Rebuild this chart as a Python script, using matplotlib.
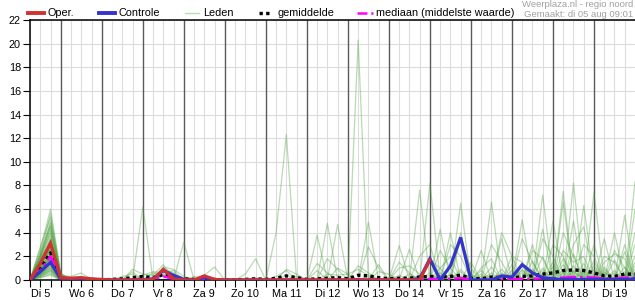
import matplotlib
matplotlib.use("Agg")
import matplotlib.pyplot as plt
from matplotlib.lines import Line2D
import numpy as np

plt.rcParams["font.family"] = ["Liberation Sans", "DejaVu Sans"]

W, H = 635, 300

# ── Data (6-hourly steps, hours after 5 aug 00:00) ────────────────────────────
hours = list(range(6, 361, 6))            # 60 steps: 06h day 5 .. 00h day 20
day_labels = ["Di 5", "Wo 6", "Do 7", "Vr 8", "Za 9", "Zo 10", "Ma 11",
              "Di 12", "Wo 13", "Do 14", "Vr 15", "Za 16", "Zo 17", "Ma 18", "Di 19"]

oper = [0, 1.4, 3.1, 0.2, 0.15, 0.2, 0.1, 0.05, 0, 0, 0, 0, 0.05, 0.9, 0.1, 0,
        0, 0.35, 0.05, 0, 0, 0, 0, 0, 0, 0, 0, 0, 0, 0,
        0, 0, 0, 0, 0, 0, 0, 0, 0, 1.7]

control = [0, 0.7, 1.5, 0.1, 0.05, 0.1, 0.05, 0, 0, 0, 0, 0, 0.1, 0.8, 0.4, 0.05,
           0, 0.2, 0, 0, 0, 0, 0, 0, 0, 0, 0, 0, 0, 0,
           0, 0, 0, 0, 0, 0, 0, 0, 0.1, 1.8, 0, 1.2, 3.6, 0, 0, 0,
           0.35, 0.25, 1.3, 0.6, 0.2, 0.1, 0.05, 0.05, 0.05, 0.05, 0.05, 0.05, 0.05, 0.1]

mean = [0, 1.0, 2.3, 0.2, 0.1, 0.1, 0.05, 0, 0.05, 0.1, 0.2, 0.3, 0.2, 0.45, 0.2, 0.1,
        0.05, 0.05, 0.05, 0, 0, 0.05, 0.1, 0.05, 0.15, 0.35, 0.2, 0.05, 0.1, 0.15,
        0.2, 0.1, 0.4, 0.35, 0.2, 0.1, 0.15, 0.15, 0.25, 0.3, 0.25, 0.3, 0.4, 0.15,
        0.1, 0.25, 0.2, 0.15, 0.3, 0.35, 0.5, 0.6, 0.8, 0.85, 0.8, 0.6, 0.35, 0.3, 0.5, 0.5]

median = [0, 0.8, 2.0, 0.1, 0.05, 0.05, 0, 0, 0, 0, 0.05, 0.05, 0.05, 0.3, 0.1, 0,
          0, 0, 0, 0, 0, 0, 0, 0, 0, 0.05, 0, 0, 0, 0,
          0, 0, 0.05, 0.05, 0, 0, 0, 0, 0.05, 0.1, 0.05, 0.1, 0.15, 0.05,
          0, 0.05, 0.05, 0.05, 0.1, 0.1, 0.15, 0.15, 0.2, 0.25, 0.25, 0.2, 0.15, 0.1, 0.2, 0.2]

# ensemble members: day-5 shower (12h, 18h, 24h) ...
leden_12h = [2.6, 2.2, 2.8, 2.0, 1.9, 2.4, 1.8, 2.1, 1.7, 2.0, 1.6, 1.4, 1.8, 1.2, 1.5,
             1.3, 1.1, 1.4, 1.0, 1.2, 1.3, 0.9, 1.0, 1.1, 0.8, 1.0, 0.9, 0.7, 0.9, 0.8,
             0.7, 0.6, 0.8, 0.6, 0.5, 0.6, 0.5, 0.5, 0.4, 0.5, 0.4, 0.3, 0.4, 0.3, 0.3,
             0.2, 0.2, 1.4, 1.5, 0.9]
leden_18h = [6.0, 5.6, 5.3, 5.0, 4.8, 4.6, 4.5, 4.3, 4.1, 3.9, 3.7, 3.5, 3.3, 3.2, 3.0,
             2.9, 2.8, 2.7, 2.6, 2.5, 2.4, 2.3, 2.2, 2.1, 2.0, 2.0, 1.9, 1.8, 1.8, 1.7,
             1.6, 1.5, 1.5, 1.4, 1.3, 1.2, 1.2, 1.1, 1.0, 1.0, 0.9, 0.8, 0.8, 0.7, 0.6,
             0.5, 0.4, 2.6, 3.4, 1.9]
leden_24h = [0.6, 0.4, 0.5, 0.3, 0.5, 0.2, 0.4, 0.3, 0.2, 0.3, 0.1, 0.2, 0.3, 0.1, 0.2,
             0.1, 0.2, 0.1, 0.3, 0.1, 0.1, 0.2, 0.1, 0.0, 0.1, 0.2, 0.0, 0.1, 0.1, 0.0,
             0.1, 0.0, 0.1, 0.0, 0.1, 0.0, 0.0, 0.1, 0.0, 0.0, 0.1, 0.0, 0.0, 0.0, 0.0,
             0.0, 0.0, 0.2, 0.3, 0.1]

# ... and the later showers per member as (step, mm)
leden_buien = [
    [(10, 0.9), (11, 0.5), (12, 0.4), (13, 1.3), (39, 8.2), (52, 7.5)],
    [(4, 0.3), (5, 0.6), (32, 20.3), (58, 3.0)],
    [(11, 6.2), (42, 6.5), (54, 3.0), (55, 2.0)],
    [(24, 4.0), (25, 12.3), (50, 7.2)],
    [(15, 3.2), (45, 6.6), (59, 8.3)],
    [(28, 3.8), (38, 7.6), (53, 8.2)],
    [(29, 4.8), (40, 4.3), (55, 7.4)],
    [(30, 4.7), (48, 5.1), (59, 6.0)],
    [(33, 4.9), (54, 6.3)],
    [(21, 0.5), (22, 1.8), (41, 4.0), (52, 6.6)],
    [(17, 0.4), (18, 1.1), (36, 2.9), (58, 5.5)],
    [(10, 0.7), (13, 1.0), (14, 0.6), (37, 2.6), (51, 5.0)],
    [(9, 0.3), (10, 0.5), (13, 0.8), (33, 2.8), (34, 1.0), (53, 5.0)],
    [(11, 0.4), (12, 0.7), (13, 0.6), (14, 0.8), (42, 3.5), (43, 1.0), (57, 4.0)],
    [(13, 0.9), (14, 0.4), (46, 4.0), (47, 2.0), (59, 4.0)],
    [(12, 0.3), (13, 0.7), (28, 1.4), (29, 0.6), (50, 4.3)],
    [(13, 0.5), (14, 0.3), (42, 4.0), (56, 3.5)],
    [(13, 1.1), (14, 0.9), (15, 0.3), (46, 3.5), (53, 3.0), (54, 4.5)],
    [(12, 0.6), (13, 0.4), (38, 2.0), (39, 3.0), (49, 3.0)],
    [(4, 0.2), (5, 0.3), (25, 0.9), (26, 0.5), (44, 2.5), (59, 3.0)],
    [(5, 0.2), (29, 1.8), (30, 0.9), (41, 3.0), (42, 2.0), (55, 3.0)],
    [(6, 0.1), (24, 0.3), (25, 0.8), (50, 3.5), (51, 2.0)],
    [(16, 0.3), (17, 0.2), (32, 1.2), (33, 0.6), (52, 4.0), (53, 2.0)],
    [(22, 0.2), (28, 0.8), (30, 1.0), (31, 0.5), (45, 3.0), (46, 1.5), (56, 2.0), (57, 1.5)],
    [(25, 0.4), (34, 0.7), (35, 0.5), (48, 3.5), (49, 1.5)],
    [(26, 0.3), (36, 1.5), (37, 0.6), (40, 2.5), (41, 1.0), (57, 2.5), (58, 1.0)],
    [(29, 0.5), (30, 0.4), (31, 0.5), (32, 0.9), (33, 0.4), (49, 2.5), (50, 1.8)],
    [(34, 1.3), (39, 1.7), (40, 1.0), (47, 2.0), (48, 1.5)],
    [(36, 1.0), (37, 1.2), (38, 0.5), (43, 1.5), (52, 2.5), (53, 1.5), (54, 2.0)],
    [(40, 1.0), (41, 2.0), (44, 1.0), (45, 1.8), (51, 3.0), (52, 2.0)],
    [(56, 1.5), (57, 2.2), (58, 1.8)],
    [(44, 0.5), (48, 1.2), (53, 0.8), (58, 2.4)],
    [(40, 0.6), (47, 0.8), (51, 1.5), (56, 0.9)],
    [(36, 0.4), (45, 1.1), (52, 1.8), (59, 1.2)],
    [(42, 0.9), (49, 0.7), (54, 1.4), (57, 0.6)],
    [(38, 0.3), (46, 0.6), (50, 1.0), (55, 1.6)],
    [(41, 0.5), (48, 0.8), (53, 2.2), (58, 0.7)],
    [(43, 0.4), (47, 1.3), (52, 0.9), (59, 2.0)],
    [(37, 0.5), (44, 0.3), (51, 0.7), (56, 1.1)],
    [(39, 0.6), (45, 0.4), (50, 2.0), (54, 0.8)],
    [(40, 0.3), (46, 0.9), (53, 1.2), (57, 1.7)],
    [(42, 0.7), (49, 1.6), (55, 0.9), (59, 1.5)],
    [(38, 0.4), (48, 0.6), (52, 1.3), (58, 0.5)],
    [(44, 0.8), (51, 1.1), (54, 0.6)],
    [(41, 0.4), (47, 0.5), (53, 0.7), (56, 0.6)],
    [(45, 0.6), (50, 0.8), (55, 1.2), (59, 0.9)],
    [(33, 0.3), (43, 0.5), (49, 0.9), (57, 0.8)],
    [(35, 0.2), (46, 0.4), (52, 0.6), (58, 1.1)],
    [(39, 0.4), (48, 0.9), (54, 1.0)],
    [(42, 0.3), (50, 0.5), (56, 0.7), (59, 0.6)],
]

COLORS = {
    "oper": "#d03232",
    "control": "#3434cc",
    "leden": "#4a9e3a",
    "leden_legend": "#b8dcb0",
    "mean": "#000000",
    "median": "#ff00ff",
    "grid": "#dcdcdc",
    "day": "#5a5a5a",
    "credit": "#a0a0a0",
}
FS = 7.8


def member_series(k):
    vals = np.zeros(len(hours))
    vals[1], vals[2], vals[3] = leden_12h[k], leden_18h[k], leden_24h[k]
    for step, mm in leden_buien[k]:
        vals[step] = mm
    return vals


fig = plt.figure(figsize=(W / 100, H / 100), dpi=100, facecolor="white")
ax = fig.add_axes([30 / W, 20 / H, 605 / W, 260 / H])

# grid: light every 6h / 2 mm, dark at midnight
day_starts = list(range(24, 360, 24))
light = [h for h in hours if h % 24 != 0]
ax.vlines(light, 0, 22, color=COLORS["grid"], lw=0.8, zorder=0.5)
ax.hlines(range(2, 23, 2), 6, 360, color=COLORS["grid"], lw=0.8, zorder=0.5)
ax.vlines(day_starts, 0, 22, color=COLORS["day"], lw=1.0, zorder=1)

for k in range(len(leden_buien)):
    ax.plot(hours, member_series(k), color=COLORS["leden"], lw=0.9, alpha=0.38, zorder=2)

ax.plot(hours, mean, color=COLORS["mean"], lw=2.4, linestyle=(0, (1, 1)), zorder=3)
ax.plot(hours, median, color=COLORS["median"], lw=1.8, linestyle="-.", zorder=4)
ax.plot(hours, control, color=COLORS["control"], lw=2.3, zorder=5, solid_joinstyle="miter")
ax.plot(hours[:len(oper)], oper, color=COLORS["oper"], lw=2.3, zorder=6, solid_joinstyle="miter")

ax.set_xlim(6, 360)
ax.set_ylim(0, 22)

ax.set_xticks([d * 24 + 12 for d in range(len(day_labels))])
ax.set_xticklabels(day_labels, fontsize=FS)
ax.set_xticks(hours, minor=True)
ax.tick_params(axis="x", which="both", length=5, width=0.8, direction="out", pad=1.5)
ax.set_yticks(range(0, 23, 2))
ax.set_yticklabels([str(v) for v in range(0, 23, 2)], fontsize=FS)
ax.tick_params(axis="y", length=5, width=0.8, direction="out", pad=1.5)

for side in ("left", "bottom", "top"):
    ax.spines[side].set_linewidth(1.1)
    ax.spines[side].set_color("black")
ax.spines["right"].set_visible(False)

# ── legend along the top, placed by hand like the original ──
legend_y = 1 - 13.3 / H
entries = [
    (27.7, 43.7, 47.7, "Oper.", dict(color=COLORS["oper"], lw=2.8)),
    (99.3, 115.0, 118.7, "Controle", dict(color=COLORS["control"], lw=2.8)),
    (185.0, 199.0, 203.0, "Leden", dict(color=COLORS["leden_legend"], lw=1.0)),
    (258.5, 271.0, 277.5, "gemiddelde", dict(color=COLORS["mean"], lw=2.4, linestyle=(0, (1, 1)))),
    (357.0, 372.5, 376.5, "mediaan (middelste waarde)", dict(color=COLORS["median"], lw=1.8, linestyle=(0, (4, 1.5, 1, 1.5)))),
]
for x0, x1, xt, label, style in entries:
    fig.add_artist(Line2D([x0 / W, x1 / W], [legend_y, legend_y], transform=fig.transFigure, **style))
    fig.text(xt / W, legend_y, label, fontsize=FS, va="center", ha="left")

fig.text(633 / W, 1 - 4.5 / H, "Weerplaza.nl - regio noord", fontsize=6.8,
         color=COLORS["credit"], ha="right", va="center")
fig.text(633 / W, 1 - 14.5 / H, "Gemaakt: di 05 aug 09:01", fontsize=6.8,
         color=COLORS["credit"], ha="right", va="center")

fig.savefig("out.png", dpi=100, facecolor="white")
